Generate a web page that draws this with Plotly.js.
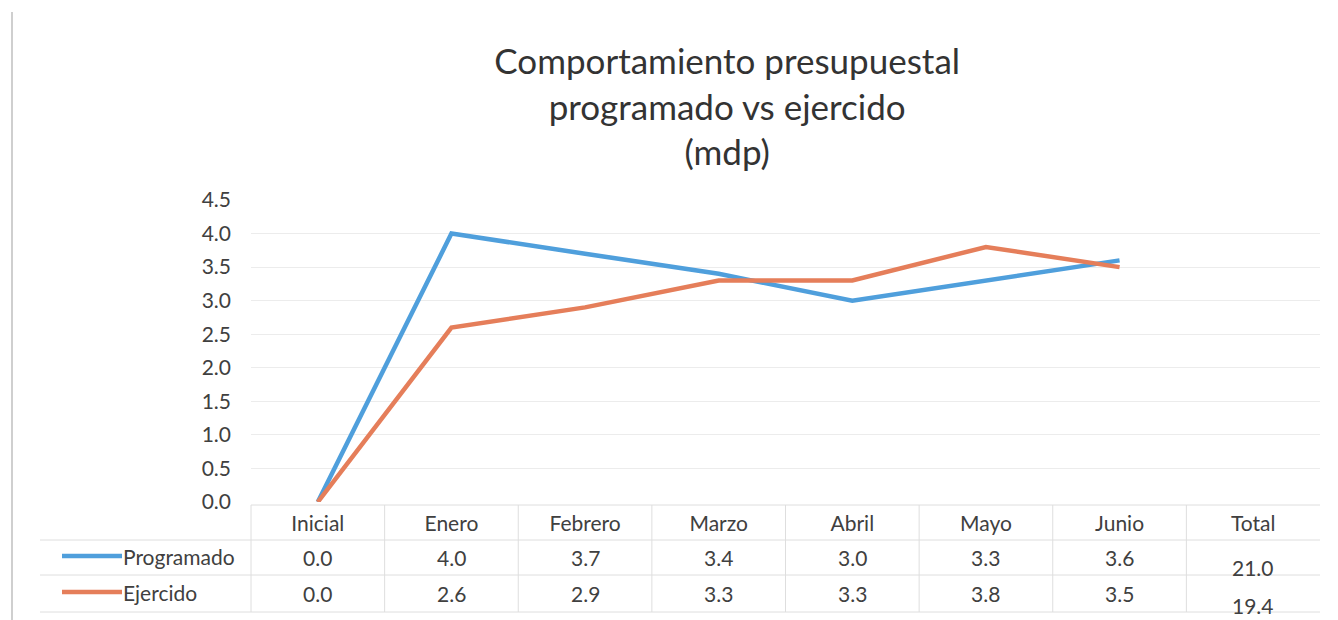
<!DOCTYPE html>
<html>
<head>
<meta charset="utf-8">
<script src="https://cdn.plot.ly/plotly-3.0.1.min.js"></script>
<style>html,body{margin:0;padding:0;background:#fff;}#chart{width:1338px;height:620px;}</style>
</head>
<body>
<div id="chart"></div>
<script>
// ---- data ----
const categories = ["Inicial", "Enero", "Febrero", "Marzo", "Abril", "Mayo", "Junio"];
const totalLabel = "Total";
const programado = [0.0, 4.0, 3.7, 3.4, 3.0, 3.3, 3.6];
const ejercido = [0.0, 2.6, 2.9, 3.3, 3.3, 3.8, 3.5];
const totalProgramado = 21.0;
const totalEjercido = 19.4;
const seriesNames = ["Programado", "Ejercido"];
const yTicks = [0, 0.5, 1, 1.5, 2, 2.5, 3, 3.5, 4, 4.5];

// ---- layout helpers (pixel geometry) ----
const W = 1338, H = 620;
const M = {l: 251, r: 18, t: 200, b: 118};
const PW = W - M.l - M.r, PH = H - M.t - M.b;
const px2x = p => (p - M.l) / PW;           // pixel x -> paper
const px2y = p => (H - M.b - p) / PH;       // pixel y -> paper

const FONT = "Lato, 'Open Sans', sans-serif";
const TXT = "#404040";
const BLUE = "#4f9fdc";
const ORANGE = "#e57e5a";
const GRID = "#ececec";
const FS = 21;

const allCats = categories.concat([totalLabel]);

const traces = [
  {x: categories, y: programado, type: "scatter", mode: "lines", name: seriesNames[0],
   line: {color: BLUE, width: 4.5}, showlegend: false, hoverinfo: "x+y"},
  {x: categories, y: ejercido, type: "scatter", mode: "lines", name: seriesNames[1],
   line: {color: ORANGE, width: 4.5}, showlegend: false, hoverinfo: "x+y"}
];

const rowY = [557, 593];
const totalRowY = [567, 605];
const annotations = [];
const shapes = [];

[programado, ejercido].forEach((vals, r) => {
  vals.forEach((v, i) => {
    annotations.push({x: categories[i], xref: "x", y: px2y(rowY[r]), yref: "paper",
      text: v.toFixed(1), showarrow: false, xanchor: "center", yanchor: "middle",
      font: {family: FONT, size: FS, color: TXT}});
  });
});
[totalProgramado, totalEjercido].forEach((v, r) => {
  annotations.push({x: totalLabel, xref: "x", y: px2y(totalRowY[r]), yref: "paper",
    text: v.toFixed(1), showarrow: false, xanchor: "center", yanchor: "middle",
    font: {family: FONT, size: FS, color: TXT}});
});
// legend keys + names
const keyColors = [BLUE, ORANGE];
seriesNames.forEach((n, r) => {
  shapes.push({type: "line", xref: "paper", yref: "paper",
    x0: px2x(62), x1: px2x(122), y0: px2y(rowY[r] - 1), y1: px2y(rowY[r] - 1),
    line: {color: keyColors[r], width: 4.5}});
  annotations.push({x: px2x(121), xref: "paper", y: px2y(rowY[r] - 1), yref: "paper",
    text: n, showarrow: false, xanchor: "left", yanchor: "middle",
    font: {family: FONT, size: FS, color: TXT}});
});

// table grid lines
const tblLine = {color: "#dedede", width: 1};
[540, 575, 612].forEach(p => {
  shapes.push({type: "line", xref: "paper", yref: "paper", x0: px2x(40), x1: 1,
    y0: px2y(p), y1: px2y(p), line: tblLine});
});
shapes.push({type: "line", xref: "paper", yref: "paper", x0: 0, x1: 1,
  y0: px2y(505), y1: px2y(505), line: tblLine});
for (let k = 0; k < allCats.length; k++) {
  shapes.push({type: "line", xref: "paper", yref: "paper",
    x0: k / allCats.length, x1: k / allCats.length, y0: px2y(505), y1: px2y(612), line: tblLine});
}
// page border at left
shapes.push({type: "line", xref: "paper", yref: "paper", x0: px2x(12), x1: px2x(12),
  y0: px2y(12), y1: px2y(H), line: {color: "#cfcfcf", width: 2}});

const layout = {
  width: W, height: H,
  margin: M,
  paper_bgcolor: "#ffffff", plot_bgcolor: "#ffffff",
  font: {family: FONT, color: TXT},
  title: {text: "Comportamiento presupuestal<br>programado vs ejercido<br>(mdp)",
    font: {family: FONT, size: 35, color: "#333333"},
    x: 0.5435, xref: "container", xanchor: "center",
    y: 1 - 74 / H, yref: "container", yanchor: "top"},
  xaxis: {type: "category", categoryarray: allCats, categoryorder: "array",
    range: [-0.5, allCats.length - 0.5], showgrid: false, zeroline: false,
    showline: false, ticks: "", tickfont: {family: FONT, size: FS, color: TXT},
    tickvals: allCats, ticktext: allCats, ticklabelstandoff: 7, fixedrange: true},
  yaxis: {range: [0, 4.5], tickvals: yTicks, ticktext: yTicks.map(v => v.toFixed(1)),
    showgrid: true, gridcolor: GRID, gridwidth: 1, zeroline: false, showline: false,
    ticks: "", tickfont: {family: FONT, size: FS, color: TXT}, ticklabelstandoff: 19,
    fixedrange: true},
  annotations: annotations,
  shapes: shapes,
  showlegend: false
};

Plotly.newPlot("chart", traces, layout, {displayModeBar: false, staticPlot: true});
</script>
</body>
</html>
